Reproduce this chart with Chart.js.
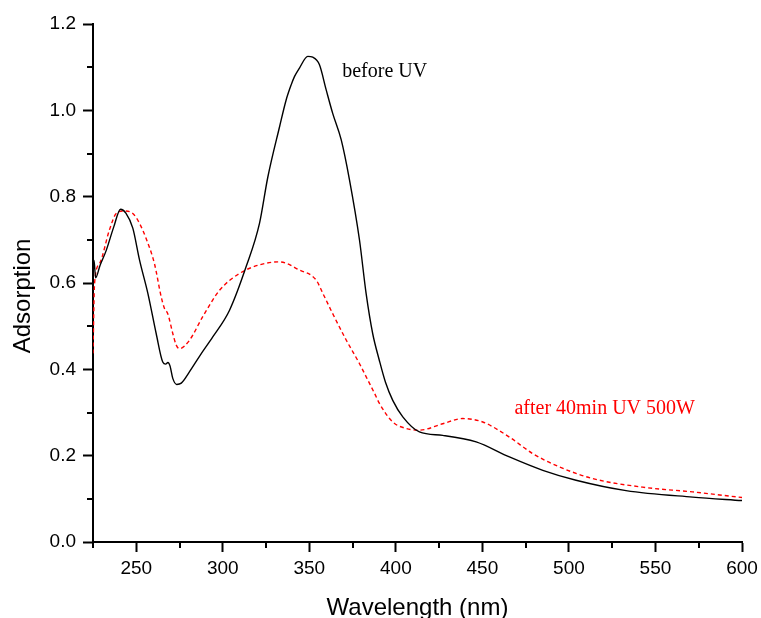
<!DOCTYPE html>
<html>
<head>
<meta charset="utf-8">
<script src="https://cdn.jsdelivr.net/npm/chart.js@4/dist/chart.umd.min.js"></script>
<style>
  html, body { margin: 0; padding: 0; background: #fff; }
  #wrap { width: 761px; height: 618px; }
</style>
</head>
<body>
<div id="wrap"><canvas id="uvChart" width="761" height="618"></canvas></div>
<script>
// wavelengths (nm) and absorbance
const beforeWl = [225, 225.6, 226.5, 229, 232.6, 237, 240.9, 244, 248, 251.9, 256.7, 261.5, 265.3, 267, 268.3, 269.5, 271.1, 273.4, 276, 280.7, 287, 294.2, 303.9, 313.5, 321.2, 326, 332.8, 336.6, 339.5, 341.4, 344.3, 349.1, 352, 355.8, 359.7, 363.5, 368.4, 373.2, 379, 382.8, 386.6, 390.5, 394, 398.2, 404, 413.6, 427.1, 446.4, 465.6, 484.9, 504.1, 533, 571.5, 600];
const beforeAbs = [0.62, 0.652, 0.612, 0.64, 0.675, 0.73, 0.771, 0.762, 0.727, 0.653, 0.576, 0.483, 0.417, 0.412, 0.416, 0.408, 0.379, 0.365, 0.368, 0.394, 0.433, 0.475, 0.537, 0.638, 0.738, 0.845, 0.962, 1.024, 1.059, 1.078, 1.098, 1.125, 1.123, 1.106, 1.048, 0.993, 0.932, 0.839, 0.699, 0.576, 0.483, 0.42, 0.37, 0.328, 0.29, 0.255, 0.247, 0.232, 0.197, 0.166, 0.143, 0.119, 0.104, 0.096];

const afterWl = [225, 225.9, 228.8, 234.5, 238.4, 243.2, 248, 251.9, 255.7, 260.5, 264.4, 266.3, 268.2, 271.1, 273.1, 275, 280.7, 288.4, 298.1, 309.6, 321.2, 332.7, 344.3, 353.9, 357.8, 363.5, 371.3, 379, 383.8, 387.6, 390.5, 398.2, 405.9, 413.6, 427.1, 438.6, 450.2, 465.6, 479, 494.5, 513.7, 542.6, 571.5, 600];
const afterAbs = [0.437, 0.599, 0.645, 0.723, 0.761, 0.767, 0.761, 0.738, 0.703, 0.645, 0.568, 0.541, 0.529, 0.483, 0.456, 0.448, 0.467, 0.522, 0.583, 0.622, 0.642, 0.649, 0.63, 0.607, 0.576, 0.529, 0.468, 0.413, 0.375, 0.345, 0.321, 0.278, 0.263, 0.259, 0.274, 0.286, 0.278, 0.243, 0.205, 0.174, 0.147, 0.127, 0.116, 0.103];

// curve labels: [text, wavelength, absorbance, colour]
const curveLabels = [
  ["before UV", 369, 1.078, "#000"],
  ["after 40min UV 500W", 468.5, 0.2975, "#ff0000"]
];
const yTitle = "Adsorption";

const toPoints = (xs, ys) => xs.map((x, i) => ({ x: x, y: ys[i] }));

const isMajorX = (v) => Math.round(v) % 50 === 0;
const isMajorY = (v) => Math.round(v * 10) % 2 === 0;

// shorter minor ticks, curve labels, and the y title (sits a bit below centre in the original)
const extrasPlugin = {
  id: "extras",
  afterDraw(chart) {
    const ctx = chart.ctx;
    const xs = chart.scales.x, ys = chart.scales.y;
    ctx.save();
    ctx.strokeStyle = "#000";
    ctx.lineWidth = 2;
    ctx.beginPath();
    xs.ticks.forEach((t) => {
      if (isMajorX(t.value)) return;
      const px = Math.round(xs.getPixelForValue(t.value));
      ctx.moveTo(px, ys.bottom);
      ctx.lineTo(px, ys.bottom + 6);
    });
    ys.ticks.forEach((t) => {
      if (isMajorY(t.value)) return;
      const py = Math.round(ys.getPixelForValue(t.value));
      ctx.moveTo(xs.left, py);
      ctx.lineTo(xs.left - 6, py);
    });
    ctx.stroke();

    ctx.font = '20px "Liberation Serif", "Times New Roman", serif';
    ctx.textBaseline = "alphabetic";
    curveLabels.forEach(([txt, wx, wy, col]) => {
      ctx.fillStyle = col;
      ctx.fillText(txt, xs.getPixelForValue(wx), ys.getPixelForValue(wy));
    });

    ctx.fillStyle = "#000";
    ctx.font = '24px "Liberation Sans", Arial, sans-serif';
    ctx.textAlign = "center";
    ctx.textBaseline = "middle";
    ctx.translate(23, ys.getPixelForValue(0.57));
    ctx.rotate(-Math.PI / 2);
    ctx.fillText(yTitle, 0, 0);
    ctx.restore();
  }
};

const tickFont = { family: '"Liberation Sans", Arial, sans-serif', size: 19 };
const titleFont = { family: '"Liberation Sans", Arial, sans-serif', size: 24, lineHeight: 1 };

new Chart(document.getElementById("uvChart"), {
  type: "line",
  data: {
    datasets: [
      {
        label: "before UV",
        data: toPoints(beforeWl, beforeAbs),
        borderColor: "#000",
        borderWidth: 1.4,
        pointRadius: 0,
        cubicInterpolationMode: "monotone",
        fill: false
      },
      {
        label: "after 40min UV 500W",
        data: toPoints(afterWl, afterAbs),
        borderColor: "#ff0000",
        borderWidth: 1.4,
        borderDash: [4, 3],
        pointRadius: 0,
        cubicInterpolationMode: "monotone",
        fill: false
      }
    ]
  },
  options: {
    responsive: false,
    animation: false,
    layout: { padding: { top: 24, right: 19, left: 0, bottom: 0 } },
    plugins: { legend: { display: false }, tooltip: { enabled: false } },
    scales: {
      x: {
        type: "linear",
        min: 225,
        max: 600,
        afterFit: (s) => { s.height = 76; s.paddingRight = 0; s.paddingLeft = 0; },
        ticks: {
          stepSize: 25,
          autoSkip: false,
          maxRotation: 0,
          padding: 5,
          color: "#000",
          font: tickFont,
          callback: (v) => (isMajorX(v) ? String(v) : "")
        },
        grid: {
          drawOnChartArea: false,
          tickLength: 10,
          tickWidth: 2,
          tickColor: (c) => (c.tick && isMajorX(c.tick.value) ? "#000" : "rgba(0,0,0,0)")
        },
        border: { color: "#000", width: 2 },
        title: {
          display: true,
          text: "Wavelength (nm)",
          color: "#000",
          font: titleFont,
          padding: { top: 0, bottom: -2 }
        }
      },
      y: {
        min: 0,
        max: 1.2,
        afterFit: (s) => { s.width = 93; },
        ticks: {
          stepSize: 0.1,
          autoSkip: false,
          padding: 7,
          color: "#000",
          font: tickFont,
          callback: (v) => (isMajorY(v) ? v.toFixed(1) : "")
        },
        grid: {
          drawOnChartArea: false,
          tickLength: 10,
          tickWidth: 2,
          tickColor: (c) => (c.tick && isMajorY(c.tick.value) ? "#000" : "rgba(0,0,0,0)")
        },
        border: { color: "#000", width: 2 },
        title: { display: false }
      }
    }
  },
  plugins: [extrasPlugin]
});
</script>
</body>
</html>
